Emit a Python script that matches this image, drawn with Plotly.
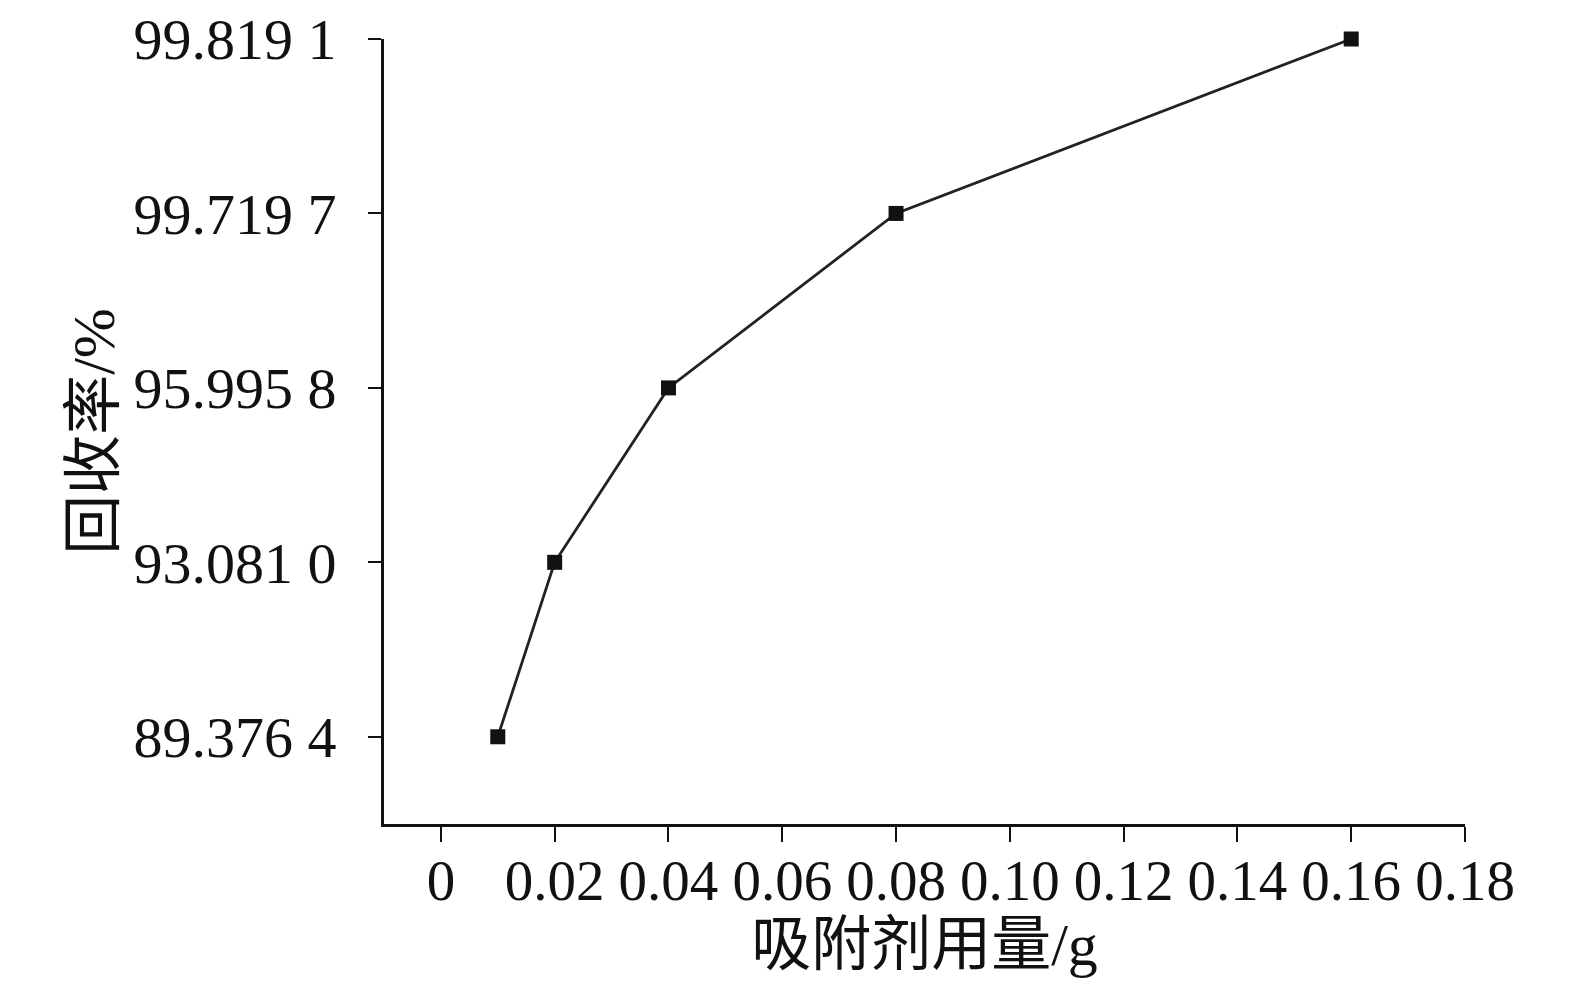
import plotly.graph_objects as go

# 吸附剂用量 (g) vs 回收率 (%)
dosage = [0.01, 0.02, 0.04, 0.08, 0.16]
recovery = ["89.376 4", "93.081 0", "95.995 8", "99.719 7", "99.819 1"]
y_order = ["89.376 4", "93.081 0", "95.995 8", "99.719 7", "99.819 1"]
x_ticks = [0, 0.02, 0.04, 0.06, 0.08, 0.10, 0.12, 0.14, 0.16, 0.18]
x_ticktext = ["0", "0.02", "0.04", "0.06", "0.08", "0.10", "0.12", "0.14", "0.16", "0.18"]

font_family = "Liberation Serif, Noto Sans CJK SC, serif"

fig = go.Figure()
fig.add_trace(go.Scatter(
    x=dosage, y=recovery,
    mode="lines+markers",
    line=dict(color="#222222", width=2.8),
    marker=dict(symbol="square", size=15, color="#111111"),
    cliponaxis=False,
    showlegend=False,
))

fig.update_layout(
    width=1575, height=988,
    paper_bgcolor="white", plot_bgcolor="white",
    margin=dict(l=376, r=118, t=31, b=172),
    font=dict(family=font_family, color="#111111"),
    xaxis=dict(
        range=[-0.01, 0.18],
        tickvals=x_ticks, ticktext=x_ticktext,
        ticks="outside", ticklen=15, tickwidth=2, tickcolor="#111111",
        ticklabelstandoff=-10,
        showline=True, linecolor="#111111", linewidth=3,
        showgrid=False, zeroline=False,
        tickfont=dict(size=57, family=font_family),
        title=dict(text="吸附剂用量/g", font=dict(size=60, family=font_family), standoff=0),
        automargin=False,
    ),
    yaxis=dict(
        type="category", categoryorder="array", categoryarray=y_order,
        range=[-0.5, 4],
        ticks="outside", ticklen=13, tickwidth=2, tickcolor="#111111",
        ticklabelstandoff=20,
        showline=True, linecolor="#111111", linewidth=3,
        showgrid=False, zeroline=False,
        tickfont=dict(size=58, family=font_family),
        title=dict(text="回收率/%", font=dict(size=60, family=font_family), standoff=0),
        automargin=False,
    ),
)

fig.write_html("out.html")
